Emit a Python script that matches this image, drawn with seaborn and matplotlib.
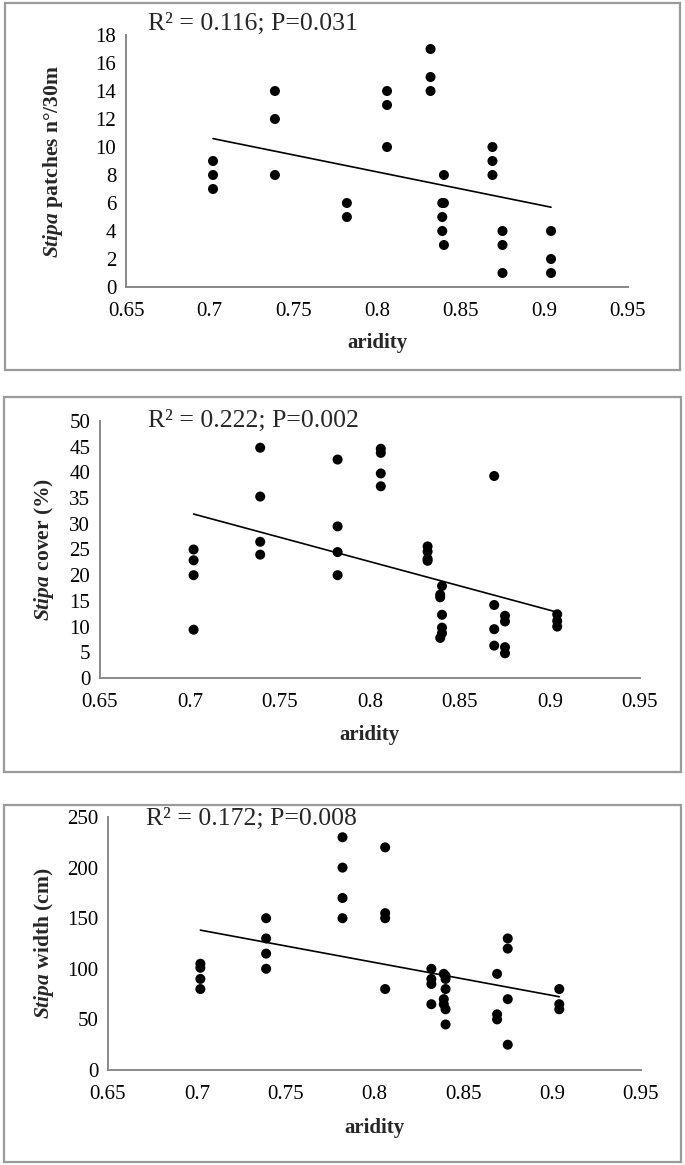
import matplotlib
matplotlib.use("Agg")
import matplotlib.pyplot as plt
import seaborn as sns
import pandas as pd
from matplotlib.patches import Rectangle

# --- data ---
patch_x = [0.702, 0.702, 0.702, 0.739, 0.739, 0.739, 0.782, 0.782,
           0.806, 0.806, 0.806, 0.832, 0.832, 0.832,
           0.840, 0.839, 0.840, 0.839, 0.839, 0.840,
           0.869, 0.869, 0.869, 0.875, 0.875, 0.875, 0.904, 0.904, 0.904]
patch_y = [7, 8, 9, 8, 12, 14, 5, 6,
           10, 13, 14, 14, 15, 17,
           8, 6, 6, 5, 4, 3,
           8, 9, 10, 1, 3, 4, 1, 2, 4]

cover_x = [0.702, 0.702, 0.702, 0.702, 0.739, 0.739, 0.739, 0.739,
           0.782, 0.782, 0.782, 0.782, 0.806, 0.806, 0.806, 0.806,
           0.832, 0.832, 0.832, 0.832,
           0.840, 0.839, 0.839, 0.840, 0.840, 0.840, 0.839,
           0.869, 0.869, 0.869, 0.869, 0.875, 0.875, 0.875, 0.875,
           0.904, 0.904, 0.904]
cover_y = [25.0, 22.9, 20.0, 9.4, 44.8, 35.3, 26.5, 24.0,
           42.5, 29.5, 24.5, 20.0, 44.6, 43.8, 39.8, 37.3,
           25.6, 24.6, 23.2, 22.8,
           17.9, 16.2, 15.7, 12.3, 9.8, 8.7, 7.8,
           39.3, 14.2, 9.5, 6.3, 12.1, 11.0, 6.0, 4.8,
           12.4, 11.1, 10.0]

width_x = [0.702, 0.702, 0.702, 0.702, 0.739, 0.739, 0.739, 0.739,
           0.782, 0.782, 0.782, 0.782, 0.806, 0.806, 0.806, 0.806,
           0.832, 0.832, 0.832, 0.832,
           0.839, 0.839, 0.839, 0.840, 0.840, 0.840, 0.840, 0.840,
           0.869, 0.869, 0.869, 0.875, 0.875, 0.875, 0.875,
           0.904, 0.904, 0.904]
width_y = [105, 101, 90, 80, 150, 130, 115, 100,
           230, 200, 170, 150, 220, 155, 150, 80,
           100, 90, 85, 65,
           95, 70, 65, 93, 90, 80, 60, 45,
           95, 55, 50, 130, 120, 70, 25,
           80, 65, 60]

trend_x = [0.702, 0.904]
patch_trend = [10.6, 5.7]
cover_trend = [31.9, 12.8]
width_trend = [138.2, 72.4]

xticks = [0.65, 0.7, 0.75, 0.8, 0.85, 0.9, 0.95]
xtick_labels = ["0.65", "0.7", "0.75", "0.8", "0.85", "0.9", "0.95"]

sns.set_style("white")
plt.rcParams['font.family'] = ['Liberation Serif', 'DejaVu Serif']
plt.rcParams['mathtext.fontset'] = 'custom'
plt.rcParams['mathtext.rm'] = 'Liberation Serif'
plt.rcParams['mathtext.it'] = 'Liberation Serif:italic'
plt.rcParams['mathtext.bf'] = 'Liberation Serif:bold'
try:
    plt.rcParams['mathtext.bfit'] = 'Liberation Serif:italic:bold'
    italic_cmd = r'\mathbfit'
except KeyError:
    italic_cmd = r'\mathit'

W, H = 685, 1165
fig = plt.figure(figsize=(W / 100, H / 100), dpi=100)

# (box px), (axes px: left, right, top, bottom), text
panels = [
    dict(x=patch_x, y=patch_y, trend=patch_trend, box=(5, 3, 680, 370),
         ax=(126, 628, 35, 287), ylim=18, ystep=2,
         ylabel=r'$%s{Stipa}$ patches n°/30m' % italic_cmd,
         note='R² = 0.116; P=0.031', note_xy=(148, 24), ylab_x=53, xlab_y=343),
    dict(x=cover_x, y=cover_y, trend=cover_trend, box=(4, 397, 681, 772),
         ax=(100, 640, 421, 678), ylim=50, ystep=5,
         ylabel=r'$%s{Stipa}$ cover (%%)' % italic_cmd,
         note='R² = 0.222; P=0.002', note_xy=(148, 421), ylab_x=44, xlab_y=735),
    dict(x=width_x, y=width_y, trend=width_trend, box=(4, 805, 681, 1162),
         ax=(108, 641, 817, 1070), ylim=250, ystep=50,
         ylabel=r'$%s{Stipa}$ width (cm)' % italic_cmd,
         note='R² = 0.172; P=0.008', note_xy=(146, 819), ylab_x=44, xlab_y=1128),
]

for p in panels:
    bx0, by0, bx1, by1 = p['box']
    fig.patches.append(Rectangle((bx0 / W, 1 - by1 / H), (bx1 - bx0) / W, (by1 - by0) / H,
                                 transform=fig.transFigure, fill=False,
                                 edgecolor='#9a9a9a', linewidth=1.6))
    l, r, t, b = p['ax']
    ax = fig.add_axes([l / W, 1 - b / H, (r - l) / W, (b - t) / H])
    df = pd.DataFrame({'aridity': p['x'], 'value': p['y']})
    sns.scatterplot(data=df, x='aridity', y='value', ax=ax, color='black',
                    s=52, edgecolor='none', zorder=3)
    sns.lineplot(x=trend_x, y=p['trend'], ax=ax, color='black', linewidth=1.2)

    ax.set_xlim(0.65, 0.95)
    ax.set_ylim(0, p['ylim'])
    ax.set_xticks(xticks)
    ax.set_xticklabels(xtick_labels)
    ax.set_yticks(range(0, p['ylim'] + 1, p['ystep']))
    ax.tick_params(axis='both', labelsize=15, colors='#888888', labelcolor='black',
                   length=5, width=1.2, direction='out')
    ax.tick_params(axis='y', length=4, pad=3)
    ax.tick_params(axis='x', pad=6)
    for side in ['top', 'right']:
        ax.spines[side].set_visible(False)
    for side in ['left', 'bottom']:
        ax.spines[side].set_color('#888888')
        ax.spines[side].set_linewidth(1.4)
    ax.set_xlabel('')
    ax.set_ylabel('')

    fig.text(p['ylab_x'] / W, 1 - ((t + b) / 2) / H, p['ylabel'], rotation=90,
             ha='center', va='center', fontsize=15.5, fontweight='bold')
    fig.text(((l + r) / 2) / W, 1 - p['xlab_y'] / H, 'aridity', ha='center',
             va='center', fontsize=15, fontweight='bold')
    fig.text(p['note_xy'][0] / W, 1 - p['note_xy'][1] / H, p['note'], ha='left',
             va='center', fontsize=18.5)

fig.savefig('out.png', dpi=100)
plt.close(fig)
